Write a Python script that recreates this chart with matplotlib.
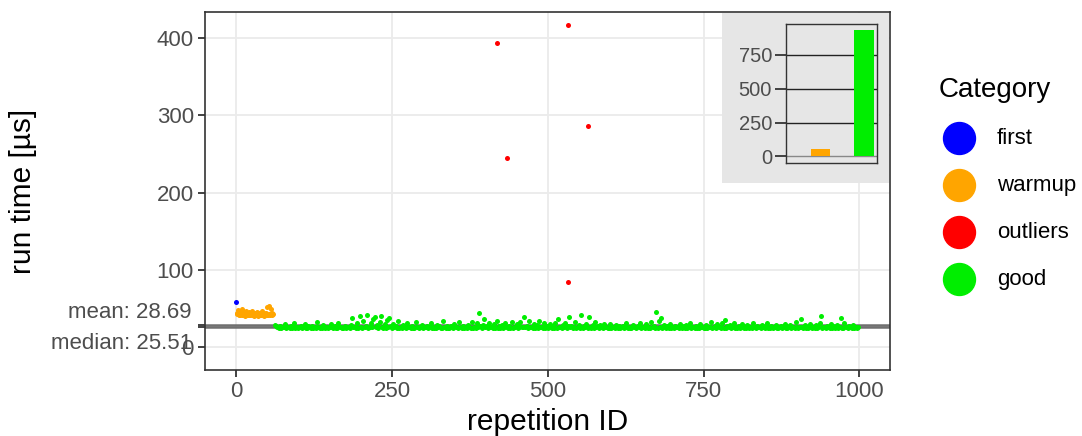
import numpy as np
import matplotlib
matplotlib.use("Agg")
import matplotlib.pyplot as plt
from matplotlib.lines import Line2D
from matplotlib.patches import Rectangle

plt.rcParams['font.family'] = ['Liberation Sans', 'DejaVu Sans']

# ---------------- data ----------------
categories = ["first", "warmup", "outliers", "good"]
colors = ["#0000FF", "#FFA500", "#FF0000", "#00EE00"]

first_x = [0]
first_y = [58.0]

warmup_y = [44.5, 42.1, 47.8, 41.3, 43.6, 40.8, 45.9, 42.7, 41.5, 48.6,
            43.0, 41.9, 44.8, 40.6, 42.4, 46.7, 41.2, 43.3, 42.0, 45.1,
            40.9, 41.8, 43.9, 42.6, 47.2, 41.0, 42.9, 44.1, 40.7, 41.6,
            43.4, 42.3, 45.6, 41.1, 40.5, 42.8, 44.3, 41.4, 43.1, 40.8,
            42.2, 46.2, 41.7, 43.7, 40.6, 42.5, 41.3, 44.6, 51.2, 42.0,
            40.9, 53.0, 43.2, 41.5, 42.7, 49.5, 41.0, 44.0, 42.4]
warmup_x = list(range(1, 1 + len(warmup_y)))

outlier_x = [418, 434, 532, 533, 564]
outlier_y = [393, 245, 84, 417, 286]

good_y = [
    28.5, 27.0, 26.2, 25.1, 27.8, 24.6, 26.0, 25.3, 29.5, 24.9, 25.8, 26.4, 24.2, 27.1, 25.0, 31.2, 24.7, 25.9, 26.3, 24.5,
    25.4, 27.6, 24.8, 26.1, 30.4, 25.2, 24.6, 26.8, 25.5, 24.3, 27.3, 25.0, 26.2, 24.9, 32.5, 25.6, 24.4, 26.0, 25.1, 27.9,
    24.7, 25.8, 26.5, 24.2, 25.3, 29.8, 25.9, 24.6, 26.7, 25.2, 24.8, 31.6, 25.5, 26.3, 24.5, 25.0, 27.4, 24.9, 26.1, 25.4,
    24.6, 28.9, 37.5, 25.7, 26.4, 24.8, 30.9, 25.1, 39.8, 26.0, 24.7, 33.4, 25.6, 27.5, 41.2, 24.9, 26.2, 31.5, 25.3, 36.8,
    38.4, 25.8, 27.9, 24.5, 32.6, 40.1, 26.3, 25.0, 29.4, 24.8, 34.7, 25.9, 37.2, 26.6, 24.4, 30.2, 25.5, 27.0, 24.9, 33.1,
    25.2, 26.5, 24.7, 28.6, 25.8, 24.3, 31.0, 25.6, 26.2, 24.9, 27.7, 25.1, 24.6, 32.3, 25.9, 26.4, 24.5, 25.3, 29.1, 24.8,
    26.0, 25.4, 27.2, 24.6, 25.7, 30.6, 24.9, 26.3, 25.0, 24.4, 28.3, 25.8, 26.6, 24.7, 25.2, 33.8, 25.5, 24.8, 26.9, 25.1,
    24.5, 27.5, 25.9, 24.7, 29.9, 25.3, 26.1, 24.9, 31.8, 25.6, 24.6, 27.0, 25.2, 26.4, 24.8, 28.8, 25.7, 24.3, 32.9, 25.0,
    26.2, 24.9, 30.5, 25.4, 44.0, 26.7, 24.6, 28.1, 35.6, 25.3, 27.4, 24.8, 31.3, 25.9, 26.0, 24.5, 29.6, 25.1, 33.5, 24.7,
    26.8, 25.2, 28.4, 24.6, 25.5, 30.7, 26.3, 24.9, 27.2, 25.0, 32.1, 24.4, 25.8, 26.5, 29.3, 24.7, 25.6, 31.9, 25.3, 26.0,
    39.0, 25.4, 27.8, 24.8, 34.2, 25.7, 26.1, 24.5, 30.0, 25.2, 28.7, 24.9, 33.0, 25.9, 26.4, 24.6, 31.4, 25.1, 27.3, 24.7,
    25.6, 29.7, 24.9, 26.6, 25.0, 31.1, 24.4, 36.0, 25.8, 26.2, 24.7, 28.2, 25.3, 30.8, 24.6, 26.9, 39.2, 25.5, 27.6, 24.8,
    25.9, 32.4, 24.6, 26.3, 29.0, 25.2, 41.0, 24.9, 27.1, 25.6, 30.3, 24.5, 39.1, 26.0, 25.1, 28.5, 24.7, 31.7, 25.4, 26.7,
    24.8, 27.9, 25.3, 24.5, 29.2, 25.8, 26.1, 24.9, 25.0, 30.1, 24.6, 26.4, 25.5, 24.7, 28.0, 25.2, 26.8, 24.4, 25.7, 27.4,
    24.9, 25.6, 31.5, 24.6, 26.2, 25.1, 24.8, 28.9, 25.4, 26.0, 24.5, 27.2, 25.9, 30.6, 24.7, 25.3, 26.5, 24.9, 29.8, 25.0,
    26.3, 24.6, 32.7, 25.5, 27.0, 24.8, 45.5, 25.2, 33.9, 26.1, 37.5, 24.7, 28.6, 25.7, 24.5, 26.6, 25.0, 30.4, 24.9, 25.8,
    24.6, 27.7, 25.3, 26.0, 24.8, 29.5, 25.6, 24.4, 26.7, 25.1, 28.2, 24.9, 25.4, 31.0, 24.7, 26.2, 25.9, 24.5, 27.5, 25.2,
    24.8, 30.2, 25.7, 26.4, 24.6, 25.0, 28.4, 24.9, 26.1, 25.5, 32.0, 24.7, 25.3, 27.0, 24.5, 29.3, 25.8, 26.3, 24.8, 31.2,
    25.1, 35.0, 24.6, 26.8, 25.4, 28.7, 24.9, 25.9, 30.5, 24.7, 26.0, 25.2, 27.8, 24.5, 25.6, 29.6, 24.8, 26.5, 25.0, 28.1,
    24.6, 25.7, 26.2, 24.9, 30.9, 25.3, 24.7, 27.3, 25.8, 26.0, 24.5, 28.8, 25.4, 24.8, 26.6, 31.6, 25.1, 24.9, 27.0, 25.5,
    24.7, 26.3, 29.1, 25.0, 24.6, 25.9, 27.6, 24.8, 26.1, 30.3, 25.2, 24.5, 25.6, 28.5, 24.9, 26.4, 25.3, 24.7, 32.2, 25.8,
    24.6, 26.0, 36.0, 25.4, 24.8, 27.9, 25.1, 26.5, 24.7, 29.4, 25.7, 24.9, 26.2, 25.0, 28.3, 24.6, 25.5, 31.0, 40.0, 24.8,
    26.1, 25.3, 24.7, 27.4, 25.9, 24.5, 29.9, 25.2, 26.6, 24.9, 25.6, 28.0, 24.8, 26.3, 37.5, 25.0, 24.6, 30.7, 25.4, 26.2,
    24.7, 27.1, 25.5, 24.9, 28.6, 25.1, 26.0, 24.8, 25.3,
]
good_x = list(range(62, 62 + 2 * len(good_y), 2))

mean_val = 28.69
median_val = 25.51

category_counts = [1, 52, 5, 930]

x_ticks = [0, 250, 500, 750, 1000]
y_ticks = [0, 100, 200, 300, 400]
inset_ticks = [0, 250, 500, 750]

# ---------------- figure ----------------
W, H = 1082, 436
fig = plt.figure(figsize=(W / 100, H / 100), dpi=100)


def fx(px):
    return px / W


def fy(py):
    return 1 - py / H


ax = fig.add_axes([fx(205), fy(370), fx(890) - fx(205), fy(12) - fy(370)])
ax.set_facecolor("white")
ax.set_xlim(-50, 1049)
ax.set_ylim(-29.8, 433.7)

for t in x_ticks:
    ax.axvline(t, color="#EBEBEB", lw=1.3, zorder=0)
for t in y_ticks:
    ax.axhline(t, color="#EBEBEB", lw=1.3, zorder=0)

ax.axhline(mean_val, color="#707070", lw=1.8, zorder=1)
ax.axhline(median_val, color="#707070", lw=1.8, zorder=1)

ms = 13
ax.scatter(good_x, good_y, s=ms, color=colors[3], linewidths=0, zorder=3)
ax.scatter(warmup_x, warmup_y, s=ms, color=colors[1], linewidths=0, zorder=3)
ax.scatter(outlier_x, outlier_y, s=ms, color=colors[2], linewidths=0, zorder=3)
ax.scatter(first_x, first_y, s=ms, color=colors[0], linewidths=0, zorder=3)

ax.set_xticks(x_ticks)
ax.set_xticklabels([str(t) for t in x_ticks])
ax.set_yticks(y_ticks)
ax.set_yticklabels([str(t) for t in y_ticks])
ax.set_yticks([median_val, mean_val], minor=True)
ax.tick_params(axis="both", which="both", direction="out", length=5, width=1.3,
               color="#333333", labelsize=16, labelcolor="#4D4D4D", pad=3)
for s in ax.spines.values():
    s.set_color("#333333")
    s.set_linewidth(1.2)

ax.annotate("mean: 28.69", xy=(0, mean_val), xycoords=("axes fraction", "data"),
            xytext=(-13, 12), textcoords="offset pixels", ha="right", va="center",
            fontsize=16, color="#4D4D4D", annotation_clip=False)
ax.annotate("median: 25.51", xy=(0, median_val), xycoords=("axes fraction", "data"),
            xytext=(-13, -16), textcoords="offset pixels", ha="right", va="center",
            fontsize=16, color="#4D4D4D", annotation_clip=False)

ax.set_xlabel("repetition ID", fontsize=21.5, labelpad=4)
ax.set_ylabel("run time [µs]", fontsize=21.5, labelpad=86)

# ---------------- inset ----------------
bg = Rectangle((fx(722), fy(183)), fx(889) - fx(722), fy(13) - fy(183),
               transform=fig.transFigure, facecolor="#E6E6E6", edgecolor="none", zorder=5)
fig.add_artist(bg)

axi = fig.add_axes([fx(786), fy(163), fx(877) - fx(786), fy(24) - fy(163)], zorder=6)
axi.set_facecolor("#E6E6E6")
axi.set_xlim(0.4, 4.6)
axi.set_ylim(-49, 978)
for t in inset_ticks:
    axi.axhline(t, color="#222222" if t > 0 else "#888888", lw=1.0, zorder=0)
axi.bar(range(1, len(categories) + 1), category_counts, width=0.9, color=colors, zorder=2)
axi.set_xticks([])
axi.set_yticks(inset_ticks)
axi.set_yticklabels([str(t) for t in inset_ticks])
axi.tick_params(axis="y", direction="out", length=8, width=1.3, color="#333333",
                labelsize=14.5, labelcolor="#4D4D4D", pad=2)
for s in axi.spines.values():
    s.set_color("#333333")
    s.set_linewidth(1.0)

# ---------------- legend ----------------
fig.text(fx(939), fy(90), "Category", fontsize=20, ha="left", va="center", color="black")
for i, (cat, col) in enumerate(zip(categories, colors)):
    yy = fy(138 + 47 * i)
    fig.add_artist(Line2D([fx(959)], [yy], marker="o", markersize=23, color=col,
                          linestyle="none", transform=fig.transFigure))
    fig.text(fx(997), yy, cat, fontsize=16, ha="left", va="center", color="black")

fig.savefig("out.png", dpi=100)
